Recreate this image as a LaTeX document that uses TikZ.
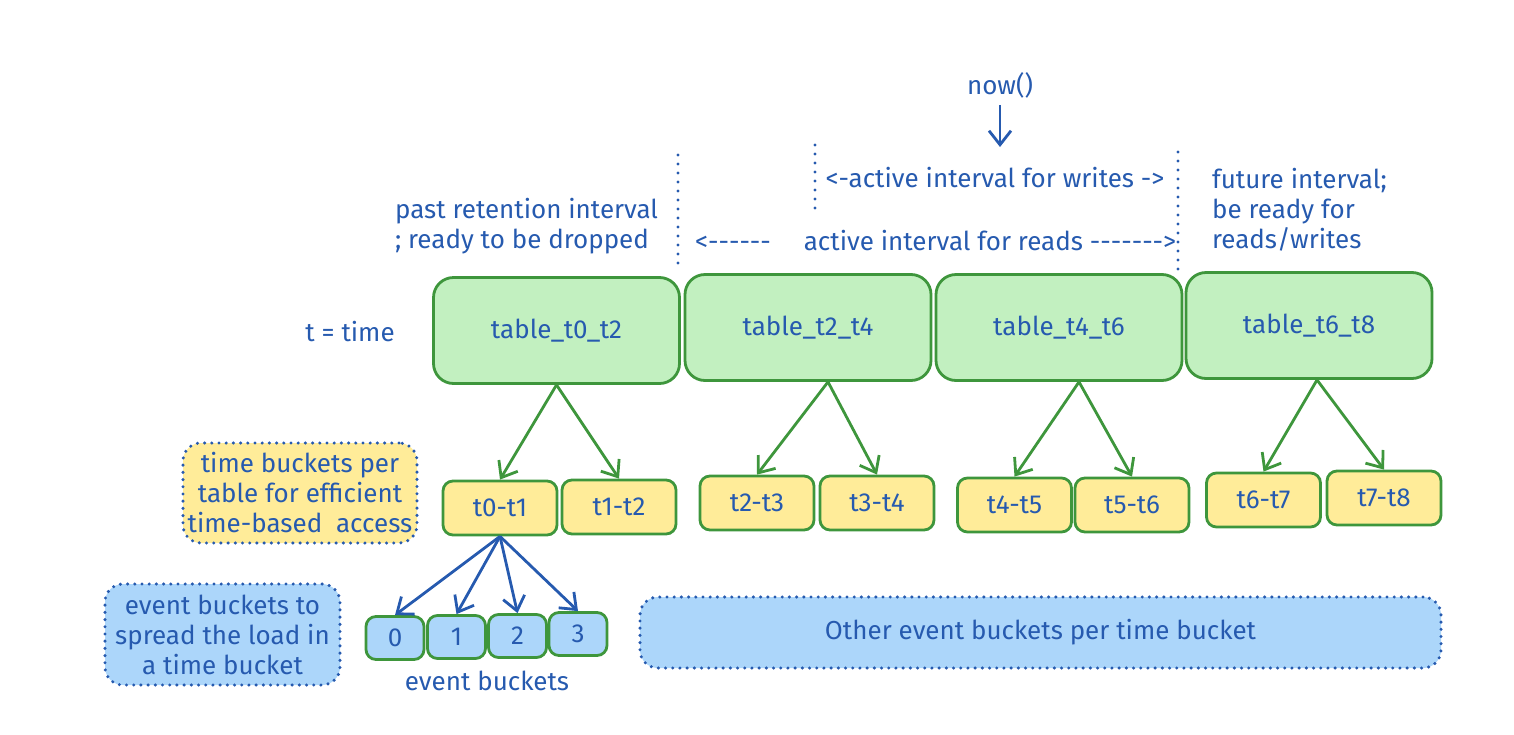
\documentclass[tikz,border=0pt]{standalone}
\usepackage{fontspec}
\setmainfont{Fira Sans}[Ligatures=TeXOff]
\usetikzlibrary{arrows.meta, positioning}
\definecolor{inkblue}{RGB}{38,90,175}
\definecolor{inkgreen}{RGB}{62,150,60}
\definecolor{tablefill}{RGB}{194,240,192}
\definecolor{timefill}{RGB}{255,236,153}
\definecolor{eventfill}{RGB}{172,214,250}

\tikzset{
  every node/.style={text=inkblue, font=\fontsize{13}{15}\selectfont},
  tablebox/.style={draw=inkgreen, fill=tablefill, line width=1.4pt, rounded corners=10pt,
    minimum width=123pt, minimum height=53pt},
  timebox/.style={draw=inkgreen, fill=timefill, line width=1.4pt, rounded corners=5pt,
    minimum width=57pt, minimum height=27pt},
  eventbox/.style={draw=inkgreen, fill=eventfill, line width=1.4pt, rounded corners=5pt,
    minimum width=29pt, minimum height=21.5pt},
  notebox/.style={draw=inkblue, line width=1.7pt, dash pattern=on 0pt off 3.6pt, line cap=round,
    rounded corners=9pt, align=center, inner sep=0pt},
  greenarrow/.style={draw=inkgreen, line width=1.4pt, -{Straight Barb[length=7pt,width=11pt]}},
  bluearrow/.style={draw=inkblue, line width=1.4pt, -{Straight Barb[length=7pt,width=11pt]}},
  guide/.style={draw=inkblue, line width=1.7pt, dash pattern=on 0pt off 4.5pt, line cap=round}
}

\begin{document}
\begin{tikzpicture}[x=0.5pt, y=-0.5pt]
\useasboundingbox (0,0) rectangle (1514,734);
% Time markers on top
\node (now) at (1000,85) {now()};
\coordinate (nowtip) at (1000,147);
\draw[bluearrow] (now.south) -- (nowtip);
\draw[guide] (678,155) -- (678,270);
\draw[guide] (815,145) -- (815,215);
\draw[guide] (1178,152) -- (1178,270);
\node (writes) at (995,178) {<-active interval for writes ->};
\node[anchor=west, align=left] (past) at (388,226) {past retention interval\\; ready to be dropped};
\node[anchor=west] (reads) at (688,241) {<------\quad\ active interval for reads ------->};
\node[anchor=west, align=left] (future) at (1205,210) {future interval;\\be ready for\\reads/writes};
\node (tlabel) at (350,332) {t = time};
% Tables
\node[tablebox] (t02) at (556.5,330.5) {table\_t0\_t2};
\node[tablebox] (t24) at (808,327.5) {table\_t2\_t4};
\node[tablebox] (t46) at (1059,327.5) {table\_t4\_t6};
\node[tablebox] (t68) at (1309,325.5) {table\_t6\_t8};
% Time buckets
\node[timebox] (b01) at (500,508) {t0-t1};
\node[timebox] (b12) at (619,507) {t1-t2};
\node[timebox] (b23) at (757,503) {t2-t3};
\node[timebox] (b34) at (877,503) {t3-t4};
\node[timebox] (b45) at (1014.5,505) {t4-t5};
\node[timebox] (b56) at (1132,505) {t5-t6};
\node[timebox] (b67) at (1263.5,500) {t6-t7};
\node[timebox] (b78) at (1384,498) {t7-t8};
\draw[greenarrow] (t02.south) -- (b01.north);
\draw[greenarrow] (t02.south) -- (b12.north);
\draw[greenarrow] ([xshift=10pt]t24.south) -- (b23.north);
\draw[greenarrow] ([xshift=10pt]t24.south) -- (b34.north);
\draw[greenarrow] ([xshift=10pt]t46.south) -- (b45.north);
\draw[greenarrow] ([xshift=10pt]t46.south) -- (b56.north);
\draw[greenarrow] ([xshift=4pt]t68.south) -- (b67.north);
\draw[greenarrow] ([xshift=4pt]t68.south) -- (b78.north);
% Event buckets
\node[eventbox] (e0) at (395,638) {0};
\node[eventbox] (e1) at (456.5,637) {1};
\node[eventbox] (e2) at (517.5,636) {2};
\node[eventbox] (e3) at (578,634) {3};
\foreach \e in {e0,e1,e2,e3}
  \draw[bluearrow] (b01.south) -- (\e.north);
\node (ebl) at (487,681) {event buckets};
% Notes
\node[notebox, fill=timefill, minimum width=117pt, minimum height=50pt] (timenote) at (300,493)
  {time buckets per\\table for efficient\\time-based\ \ access};
\node[notebox, fill=eventfill, minimum width=117.5pt, minimum height=50.5pt] (eventnote) at (222.5,634.5)
  {event buckets to\\spread the load in\\a time bucket};
\node[notebox, fill=eventfill, minimum width=400.5pt, minimum height=35.5pt] (other) at (1040.5,632.5)
  {Other event buckets per time bucket};
\end{tikzpicture}
\end{document}
